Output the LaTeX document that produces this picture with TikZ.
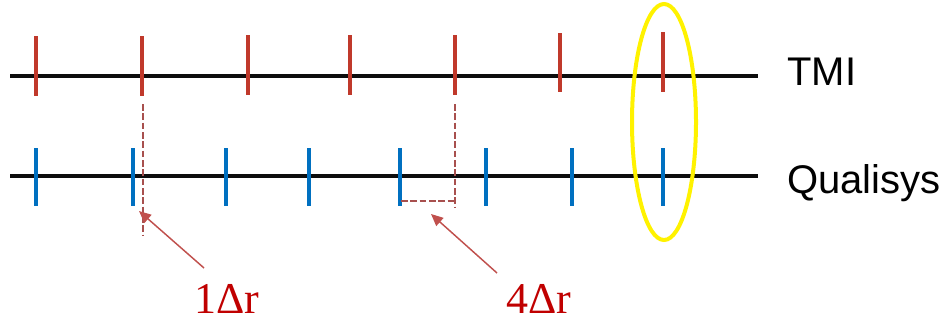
\documentclass[tikz,border=0pt]{standalone}
\usepackage{fontspec}
\setmainfont{Liberation Serif}
\newfontfamily\arialfont{Liberation Sans}
\usetikzlibrary{arrows.meta}
\definecolor{tickred}{HTML}{C0392B}
\definecolor{tickblue}{HTML}{0070C0}
\definecolor{guide}{HTML}{A8504E}
\definecolor{arrowred}{HTML}{C0504D}
\definecolor{labelred}{HTML}{C00000}
\begin{document}
\begin{tikzpicture}[x=0.75pt,y=-0.75pt,
  axisline/.style={line width=3pt,black!95},
  redtick/.style={line width=3pt,tickred},
  bluetick/.style={line width=3pt,tickblue},
  guideline/.style={line width=1pt,guide,dash pattern=on 5pt off 2pt},
  pointer/.style={line width=1.1pt,arrowred,-{Triangle[length=9pt,width=8pt]}},
  seriesname/.style={font=\arialfont\fontsize{30}{30}\selectfont,anchor=base west,inner sep=0pt},
  offsetlabel/.style={font=\fontsize{33}{33}\selectfont,text=labelred,anchor=base,inner sep=0pt}]
\useasboundingbox (0,0) rectangle (949,322);
% axes
\draw[axisline] (10,76) -- (758,76);
\draw[axisline] (10,176) -- (758,176);
% TMI ticks
\foreach \x/\a/\b in {36/36/96,142/36/96,248/35/95,350/35/95,455/35/95,560/33/92,663/32/92}
  \draw[redtick] (\x,\a) -- (\x,\b);
% Qualisys ticks
\foreach \x in {36,133,226,309,400,486,572,663}
  \draw[bluetick] (\x,148) -- (\x,206);
% guide lines
\coordinate (g1t) at (143,104);
\coordinate (g1b) at (143,236);
\coordinate (g2t) at (455,104);
\coordinate (g2c) at (455,201);
\coordinate (g2b) at (455,208);
\coordinate (g2l) at (401,201);
\draw[guideline] (g1t) -- (g1b);
\draw[guideline] (g2t) -- (g2b);
\draw[guideline] (g2l) -- (g2c);
% highlight ellipse
\draw[yellow,line width=3pt] (664,122) ellipse [x radius=32,y radius=118];
% series names
\node[seriesname] (tmi) at (787,85) {TMI};
\node[seriesname] (qual) at (787,193) {Qualisys};
% offset labels
\node[offsetlabel] (l1) at (227,313) {1Δr};
\node[offsetlabel] (l4) at (539,313) {4Δr};
\coordinate (h1) at (139,211);
\coordinate (h4) at (431,214);
\draw[pointer] (204,268) -- (h1);
\draw[pointer] (497,273) -- (h4);
\end{tikzpicture}
\end{document}
